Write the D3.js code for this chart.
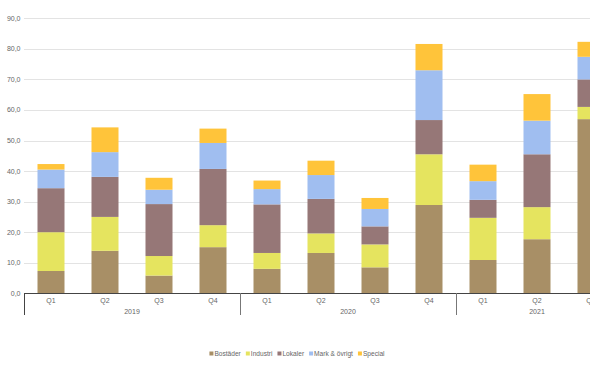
<!DOCTYPE html>
<html>
<head>
<meta charset="utf-8">
<script src="https://cdn.jsdelivr.net/npm/d3@7"></script>
<style>
  body { margin: 0; background: #fff; }
  text { font-family: "Liberation Sans", Arial, sans-serif; }
</style>
</head>
<body>
<div id="chart"></div>
<script>
// data
const quarters = ["Q1", "Q2", "Q3", "Q4", "Q1", "Q2", "Q3", "Q4", "Q1", "Q2", "Q3"];
const years = ["2019", "2019", "2019", "2019", "2020", "2020", "2020", "2020", "2021", "2021", "2021"];
const seriesNames = ["Bostäder", "Industri", "Lokaler", "Mark & övrigt", "Special"];
const bostader = [7.3, 13.9, 5.8, 15.1, 8.0, 13.2, 8.5, 28.9, 10.9, 17.7, 57.0];
const industri = [12.7, 11.1, 6.4, 7.2, 5.2, 6.4, 7.5, 16.6, 13.8, 10.5, 4.0];
const lokaler = [14.4, 13.1, 17.0, 18.4, 15.9, 11.3, 5.9, 11.2, 5.9, 17.3, 9.0];
const mark = [6.1, 8.1, 4.7, 8.5, 5.0, 7.8, 5.7, 16.3, 6.1, 11.0, 7.4];
const special = [1.8, 8.1, 3.9, 4.7, 2.8, 4.7, 3.6, 8.6, 5.4, 8.7, 4.9];
const yTicks = [0, 10, 20, 30, 40, 50, 60, 70, 80, 90];

const colors = ["#a88f66", "#e5e45f", "#967777", "#a0bef0", "#ffc43a"];

//basic frame size
var width = 590, height = 365;

var svg = d3.select("#chart").append("svg")
    .attr("width", width)
    .attr("height", height);

//build table for stacking
var rows = quarters.map((q, i) => {
    return {
        key: i,
        "Bostäder": bostader[i],
        "Industri": industri[i],
        "Lokaler": lokaler[i],
        "Mark & övrigt": mark[i],
        "Special": special[i]
    };
});
var stacked = d3.stack().keys(seriesNames)(rows);

//scales - plot runs past the right edge, last bar gets clipped
var x = d3.scaleBand().domain(d3.range(quarters.length)).range([24, 618])
    .paddingInner(0.5).paddingOuter(0.25);
var y = d3.scaleLinear().domain([0, 90]).range([293.3, 18.3]);
var fmt = (d) => d3.format(".1f")(d).replace(".", ",");
var gap = (x.step() - x.bandwidth()) / 2;

//grid
svg.append("g").selectAll("line")
    .data(yTicks.slice(1))
    .enter().append("line")
    .attr("x1", 24).attr("x2", width)
    .attr("y1", (d) => Math.round(y(d)) + 0.5)
    .attr("y2", (d) => Math.round(y(d)) + 0.5)
    .attr("stroke", "#e3e3e3");

//y labels
svg.append("g").selectAll("text")
    .data(yTicks)
    .enter().append("text")
    .attr("x", 20.5)
    .attr("y", (d) => y(d) + 2.5)
    .attr("text-anchor", "end")
    .attr("font-size", "7px")
    .attr("fill", "#666")
    .text(fmt);

//bars
svg.append("g").selectAll("g")
    .data(stacked)
    .enter().append("g")
    .attr("fill", (d, i) => colors[i])
    .selectAll("rect")
    .data((d) => d)
    .enter().append("rect")
    .attr("x", (d) => x(d.data.key))
    .attr("width", x.bandwidth())
    .attr("y", (d) => y(d[1]))
    .attr("height", (d) => y(d[0]) - y(d[1]));

//baseline
svg.append("line")
    .attr("x1", 24).attr("x2", width)
    .attr("y1", 293.5).attr("y2", 293.5)
    .attr("stroke", "#444").attr("stroke-width", 1);

//quarter labels
svg.append("g").selectAll("text")
    .data(quarters)
    .enter().append("text")
    .attr("x", (d, i) => x(i) + x.bandwidth() / 2)
    .attr("y", 303)
    .attr("text-anchor", "middle")
    .attr("font-size", "7px")
    .attr("fill", "#666")
    .text((d) => d);

//year groups
var groups = d3.groups(d3.range(years.length), (i) => years[i]);
svg.append("g").selectAll("line")
    .data(groups)
    .enter().append("line")
    .attr("x1", (d) => Math.round(x(d[1][0]) - gap) + 0.5)
    .attr("x2", (d) => Math.round(x(d[1][0]) - gap) + 0.5)
    .attr("y1", 293).attr("y2", 315)
    .attr("stroke", (d, i) => i == 0 ? "#444" : "#777");

svg.append("g").selectAll("text")
    .data(groups)
    .enter().append("text")
    .attr("x", (d) => {
        var a = x(d[1][0]) - gap;
        var b = x(d[1][d[1].length - 1]) + x.bandwidth() + gap;
        return (a + b) / 2;
    })
    .attr("y", 314)
    .attr("text-anchor", "middle")
    .attr("font-size", "7px")
    .attr("fill", "#666")
    .text((d) => d[0]);

//legend
var legend = svg.append("g");
var lx = 0;
seriesNames.forEach((name, i) => {
    var item = legend.append("g").attr("transform", "translate(" + lx + ",0)");
    item.append("rect")
        .attr("x", 0).attr("y", -4.5)
        .attr("width", 4).attr("height", 4)
        .attr("fill", colors[i]);
    var t = item.append("text")
        .attr("x", 5).attr("y", 0)
        .attr("font-size", "6.6px")
        .attr("fill", "#666")
        .text(name);
    lx += 5 + t.node().getComputedTextLength() + 5;
});
var lw = lx - 5;
legend.attr("transform", "translate(" + (297 - lw / 2) + ",356)");
</script>
</body>
</html>
